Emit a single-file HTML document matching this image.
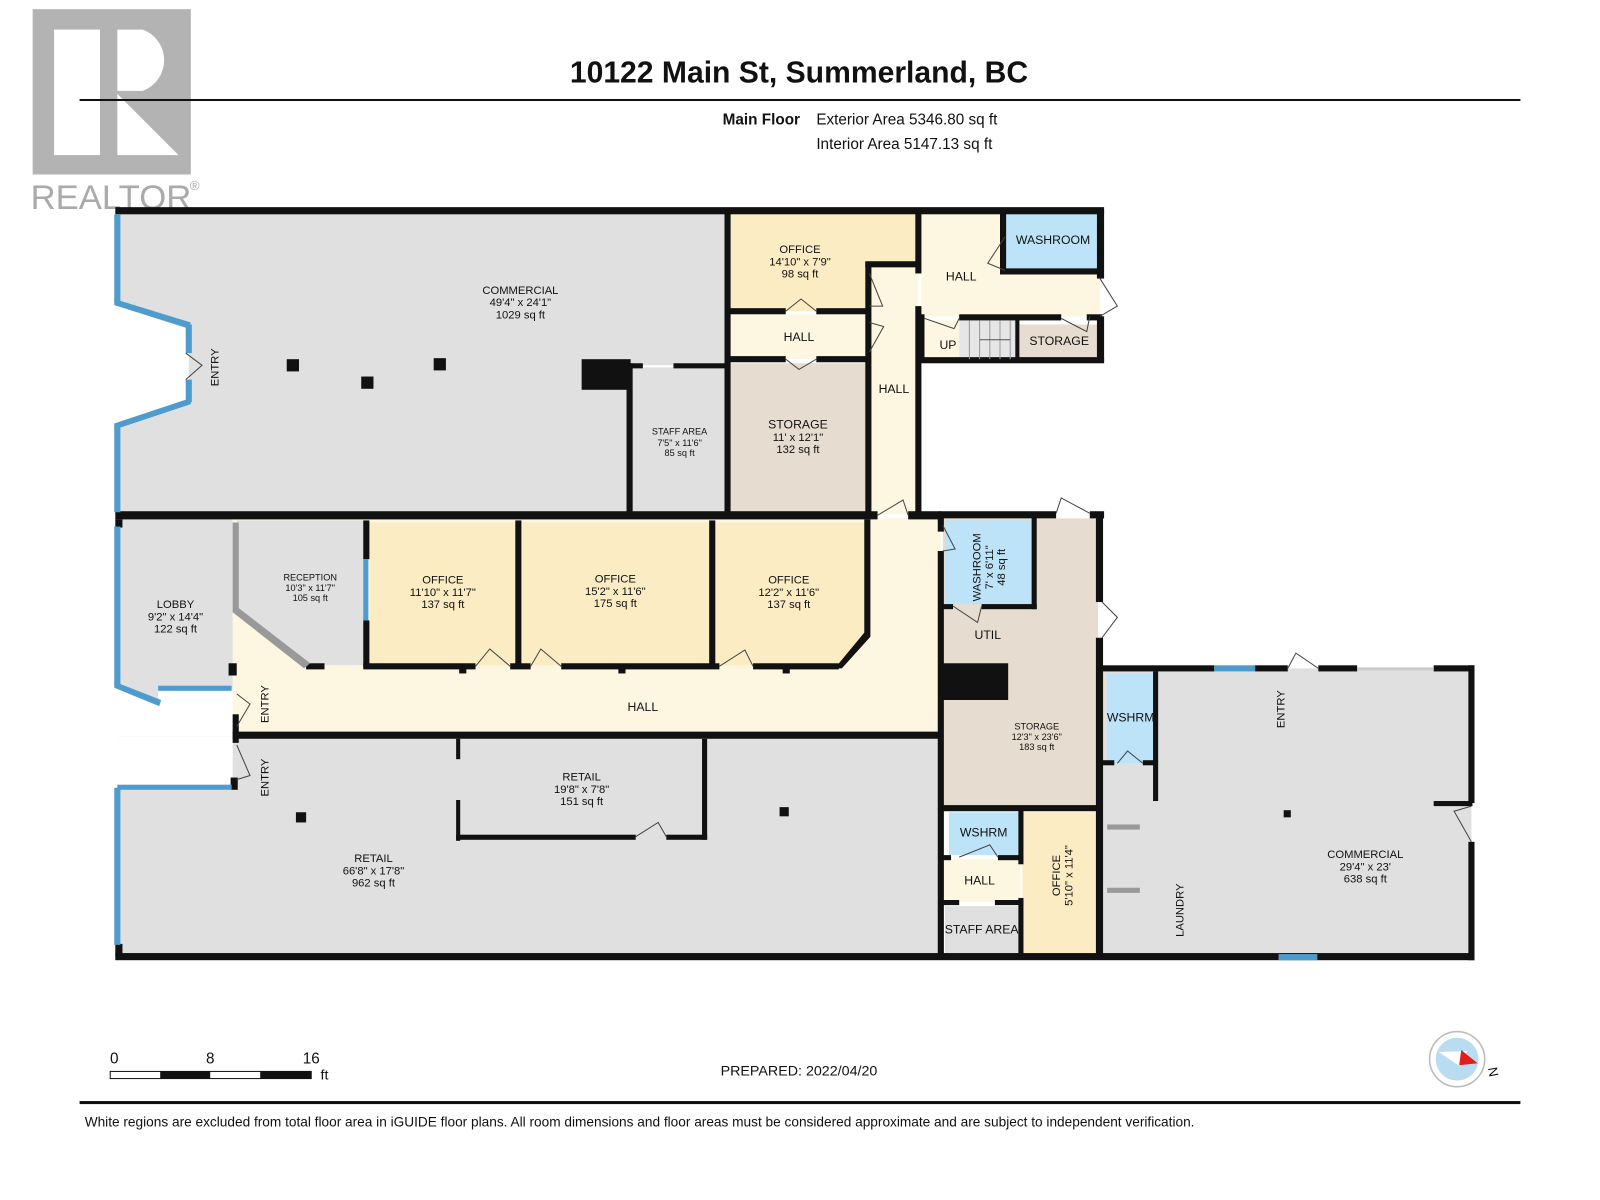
<!DOCTYPE html>
<html><head><meta charset="utf-8"><style>
html,body{margin:0;padding:0;background:#fff;}
svg{display:block;}
text{font-family:"Liberation Sans",Arial,sans-serif;fill:#111;}
</style></head><body>
<svg width="1600" height="1200" viewBox="0 0 1568 1176" preserveAspectRatio="none" xmlns="http://www.w3.org/2000/svg">
<rect x="32" y="9" width="155" height="162" fill="#b3b3b3"/>
<rect x="53" y="29" width="45" height="123" fill="#fff"/>
<path d="M115 29 H140 A32 32 0 0 1 140 89 H115 Z" fill="#fff"/>
<path d="M115 92 L175 152 H115 Z" fill="#fff"/>
<text x="30" y="205" font-size="34" style="fill:#aaa">REALTOR</text>
<text x="186" y="186" font-size="13" style="fill:#aaa">®</text>
<text x="783" y="81" font-size="29.5" font-weight="bold" text-anchor="middle">10122 Main St, Summerland, BC</text>
<rect x="78" y="97" width="1412" height="2" fill="#111"/>
<text x="784" y="122" font-size="15" font-weight="bold" text-anchor="end">Main Floor</text>
<text x="800" y="122" font-size="15">Exterior Area 5346.80 sq ft</text>
<text x="800" y="146" font-size="15">Interior Area 5147.13 sq ft</text>

<g>
<polygon points="115,208 712,208 712,358 615,358 615,502 115,502 115,417 185,393 185,318 115,295" fill="#e0e0e0"/>
<rect x="619" y="360" width="93" height="142" fill="#e0e0e0"/>
<polygon points="716,210 897,210 897,260 850,260 850,305 716,305" fill="#fcecc4"/>
<rect x="716" y="308" width="134" height="44" fill="#fdf7e2"/>
<rect x="716" y="356" width="134" height="147" fill="#e6dccf"/>
<rect x="852" y="262" width="48" height="242" fill="#fdf7e2"/>
<rect x="903" y="210" width="175" height="100" fill="#fdf7e2"/>
<rect x="985" y="208" width="93" height="58" fill="#bde3f8"/>
<rect x="904" y="314" width="36" height="38" fill="#fdf7e2"/>
<rect x="940" y="314" width="56" height="38" fill="#e6e6e6"/>
<rect x="999" y="318" width="77" height="34" fill="#e6dccf"/>
<rect x="228" y="508" width="694" height="212" fill="#fdf7e2"/>
<polygon points="115,508 228,508 228,675 155,675 155,688 115,670" fill="#e0e0e0"/>
<polygon points="232,510 358,510 358,652 300,652 232,598" fill="#e0e0e0"/>
<rect x="362" y="512" width="145" height="140" fill="#fcecc4"/>
<rect x="512" y="512" width="184" height="140" fill="#fcecc4"/>
<polygon points="700,512 850,512 850,622 822,652 700,652" fill="#fcecc4"/>
<rect x="115" y="722" width="807" height="216" fill="#e0e0e0"/>
<rect x="115" y="722" width="113" height="50" fill="#fff"/>
<polygon points="924,508 1076,508 1076,790 924,790" fill="#e6dccf"/>
<rect x="926" y="510" width="86" height="82" fill="#bde3f8"/>
<rect x="924" y="650" width="64" height="36" fill="#111"/>
<rect x="930" y="796" width="68" height="42" fill="#bde3f8"/>
<rect x="922" y="842" width="78" height="42" fill="#fdf7e2"/>
<rect x="926" y="888" width="72" height="48" fill="#e0e0e0"/>
<rect x="1002" y="796" width="72" height="138" fill="#fcecc4"/>
<rect x="1080" y="655" width="362" height="283" fill="#e0e0e0"/>
<rect x="1085" y="660" width="46" height="88" fill="#bde3f8"/>
</g>

<g fill="#111">
<rect x="113" y="203" width="969" height="7"/>
<rect x="570" y="352" width="48" height="30"/>
<rect x="614" y="356" width="6" height="148"/>
<rect x="618" y="356" width="12" height="5"/><rect x="660" y="356" width="55" height="5"/>
<rect x="710" y="205" width="6" height="300"/>
<rect x="712" y="302" width="58" height="6"/><rect x="800" y="302" width="52" height="6"/>
<rect x="712" y="349" width="58" height="6"/><rect x="800" y="349" width="52" height="6"/>
<rect x="848" y="257" width="6" height="248"/>
<rect x="848" y="256" width="52" height="6"/>
<rect x="897" y="205" width="6" height="63"/><rect x="897" y="300" width="6" height="205"/>
<rect x="980" y="205" width="6" height="63"/><rect x="980" y="263" width="100" height="6"/>
<rect x="1075" y="205" width="7" height="68"/><rect x="1075" y="310" width="7" height="45"/>
<rect x="900" y="308" width="6" height="46"/>
<rect x="940" y="308" width="100" height="6"/><rect x="1065" y="308" width="15" height="6"/>
<rect x="995" y="312" width="4" height="40"/>
<rect x="900" y="350" width="182" height="6"/>
<rect x="113" y="501" width="747" height="8"/><rect x="890" y="501" width="32" height="8"/>
<rect x="920" y="501" width="115" height="7"/><rect x="1068" y="501" width="14" height="7"/>
<rect x="113" y="509" width="7" height="8"/>
<rect x="224" y="650" width="8" height="12"/>
<rect x="228" y="700" width="6" height="28"/>
<rect x="356" y="510" width="6" height="38"/><rect x="356" y="608" width="6" height="46"/>
<rect x="505" y="510" width="6" height="145"/>
<rect x="695" y="510" width="6" height="145"/>
<polygon points="847,509 853,509 853,624 825,655 818,655 847,620"/>
<rect x="300" y="650" width="18" height="6"/><rect x="356" y="650" width="110" height="6"/>
<rect x="500" y="650" width="20" height="6"/><rect x="550" y="650" width="155" height="6"/><rect x="738" y="650" width="84" height="6"/>
<rect x="450" y="654" width="7" height="6"/><rect x="606" y="654" width="7" height="6"/><rect x="767" y="654" width="7" height="6"/>
<rect x="228" y="717" width="694" height="7"/>
<rect x="226" y="762" width="7" height="12"/>
<rect x="447" y="724" width="4" height="20"/><rect x="447" y="784" width="4" height="40"/>
<rect x="447" y="818" width="176" height="5"/><rect x="653" y="818" width="40" height="5"/>
<rect x="688" y="724" width="5" height="99"/>
<rect x="113" y="934" width="1332" height="7"/>
<rect x="113" y="925" width="7" height="12"/>
<rect x="919" y="505" width="6" height="16"/><rect x="919" y="540" width="6" height="398"/>
<rect x="1011" y="505" width="5" height="92"/>
<rect x="924" y="592" width="10" height="5"/><rect x="962" y="592" width="54" height="5"/>
<rect x="1074" y="505" width="7" height="85"/><rect x="1074" y="625" width="7" height="313"/>
<rect x="922" y="789" width="158" height="6"/>
<rect x="922" y="838" width="10" height="5"/><rect x="978" y="838" width="24" height="5"/>
<rect x="998" y="792" width="5" height="55"/><rect x="998" y="880" width="5" height="58"/>
<rect x="922" y="882" width="18" height="5"/><rect x="975" y="882" width="28" height="5"/>
<rect x="1078" y="652" width="112" height="6"/><rect x="1230" y="652" width="32" height="6"/><rect x="1292" y="652" width="38" height="6"/><rect x="1405" y="652" width="40" height="6"/>
<rect x="1439" y="652" width="6" height="135"/><rect x="1439" y="825" width="6" height="116"/>
<rect x="1405" y="785" width="38" height="5"/>
<rect x="1130" y="658" width="5" height="127"/>
<rect x="1080" y="745" width="12" height="5"/><rect x="1120" y="745" width="14" height="5"/>
<rect x="281" y="352" width="12" height="12"/><rect x="354" y="369" width="12" height="12"/><rect x="425" y="351" width="12" height="12"/>
<rect x="290" y="796" width="10" height="10"/><rect x="764" y="791" width="9" height="9"/><rect x="1258" y="794" width="7" height="7"/>
</g>
<g fill="#999">
<polygon points="228,512 234,512 234,596 304,650 298,655 228,600"/>
<rect x="1085" y="808" width="32" height="5"/><rect x="1085" y="870" width="32" height="5"/>
</g>
<g fill="#4e9ccd">
<rect x="112" y="210" width="6" height="86"/>
<polygon points="112,293 187,316 185,322 112,299"/>
<rect x="182" y="318" width="6" height="28"/><rect x="182" y="372" width="6" height="22"/>
<polygon points="112,415 187,390 187,396 112,421"/>
<rect x="112" y="418" width="6" height="84"/>
<rect x="112" y="516" width="6" height="155"/>
<polygon points="112,668 158,686 156,692 112,674"/>
<rect x="155" y="672" width="72" height="5"/>
<rect x="356" y="548" width="5" height="60"/>
<rect x="112" y="772" width="6" height="154"/>
<rect x="115" y="769" width="112" height="5"/>
<rect x="1190" y="652" width="40" height="6"/>
<rect x="1253" y="935" width="38" height="6"/>
</g>
<rect x="1330" y="654" width="75" height="3" fill="#ccc"/>
<g stroke="#999" stroke-width="1">
<line x1="950" y1="314" x2="950" y2="352"/><line x1="960" y1="314" x2="960" y2="352"/><line x1="970" y1="314" x2="970" y2="352"/><line x1="980" y1="314" x2="980" y2="352"/><line x1="990" y1="314" x2="990" y2="352"/>
<line x1="960" y1="333" x2="990" y2="333" stroke="#555"/>
</g>
<g fill="none" stroke="#444" stroke-width="1">
<path d="M770 305 L785 293 L800 305"/><path d="M770 352 L783 362 L800 352"/>
<path d="M852 268 L865 300 L852 300"/><path d="M852 316 L866 320 L852 345"/>
<path d="M985 232 L968 258 L985 265"/><path d="M1078 273 L1095 300 L1078 310"/>
<path d="M906 312 L935 322 L940 312"/><path d="M1040 312 L1065 325 L1068 310"/>
<path d="M860 505 L885 490 L890 505"/><path d="M1035 503 L1040 488 L1068 503"/>
<path d="M924 515 L936 538 L924 540"/><path d="M934 594 L958 610 L962 594"/>
<path d="M1080 590 L1095 605 L1080 625"/>
<path d="M466 653 L480 636 L500 653"/><path d="M520 653 L530 636 L550 653"/><path d="M705 653 L730 637 L738 653"/>
<path d="M232 680 L245 690 L232 712"/><path d="M232 730 L245 760 L232 764"/>
<path d="M623 820 L645 806 L653 820"/>
<path d="M940 840 L970 828 L978 840"/>
<path d="M1095 748 L1105 736 L1120 748"/><path d="M1262 655 L1270 640 L1292 655"/>
<path d="M1442 790 L1425 795 L1442 825"/>
<path d="M182 346 L198 358 L182 372"/>
</g>
<g font-size="11" text-anchor="middle">
<text x="510" y="288">COMMERCIAL</text><text x="510" y="300">49'4" x 24'1"</text><text x="510" y="312">1029 sq ft</text>
<text x="784" y="248">OFFICE</text><text x="784" y="260">14'10" x 7'9"</text><text x="784" y="272">98 sq ft</text>
<text x="783" y="334" font-size="12">HALL</text>
<text x="666" y="426" font-size="9">STAFF AREA</text><text x="666" y="437" font-size="9">7'5" x 11'6"</text><text x="666" y="447" font-size="9">85 sq ft</text>
<text x="782" y="420" font-size="12">STORAGE</text><text x="782" y="432">11' x 12'1"</text><text x="782" y="444">132 sq ft</text>
<text x="876" y="385" font-size="12">HALL</text>
<text x="942" y="275" font-size="12">HALL</text>
<text x="1032" y="239" font-size="12">WASHROOM</text>
<text x="929" y="342" font-size="12">UP</text>
<text x="1038" y="338" font-size="12">STORAGE</text>
<text x="172" y="596">LOBBY</text><text x="172" y="608">9'2" x 14'4"</text><text x="172" y="620">122 sq ft</text>
<text x="304" y="569" font-size="9">RECEPTION</text><text x="304" y="579" font-size="9">10'3" x 11'7"</text><text x="304" y="589" font-size="9">105 sq ft</text>
<text x="434" y="572">OFFICE</text><text x="434" y="584">11'10" x 11'7"</text><text x="434" y="596">137 sq ft</text>
<text x="603" y="571">OFFICE</text><text x="603" y="583">15'2" x 11'6"</text><text x="603" y="595">175 sq ft</text>
<text x="773" y="572">OFFICE</text><text x="773" y="584">12'2" x 11'6"</text><text x="773" y="596">137 sq ft</text>
<text x="630" y="697" font-size="12">HALL</text>
<text x="570" y="765">RETAIL</text><text x="570" y="777">19'8" x 7'8"</text><text x="570" y="789">151 sq ft</text>
<text x="366" y="845">RETAIL</text><text x="366" y="857">66'8" x 17'8"</text><text x="366" y="869">962 sq ft</text>
<text x="968" y="626" font-size="12">UTIL</text>
<text x="1016" y="715" font-size="9">STORAGE</text><text x="1016" y="725" font-size="9">12'3" x 23'6"</text><text x="1016" y="735" font-size="9">183 sq ft</text>
<text x="964" y="820" font-size="12">WSHRM</text>
<text x="960" y="867" font-size="12">HALL</text>
<text x="962" y="915" font-size="12">STAFF AREA</text>
<text x="1108" y="707" font-size="12">WSHRM</text>
<text x="1338" y="841">COMMERCIAL</text><text x="1338" y="853">29'4" x 23'</text><text x="1338" y="865">638 sq ft</text>
</g>
<g font-size="11" text-anchor="middle">
<text transform="translate(214,360) rotate(-90)">ENTRY</text>
<text transform="translate(263,690) rotate(-90)">ENTRY</text>
<text transform="translate(263,762) rotate(-90)">ENTRY</text>
<text transform="translate(1259,695) rotate(-90)">ENTRY</text>
<text transform="translate(1160,892) rotate(-90)">LAUNDRY</text>
<text transform="translate(961,556) rotate(-90)">WASHROOM</text>
<text transform="translate(973,556) rotate(-90)">7' x 6'11"</text>
<text transform="translate(985,556) rotate(-90)">48 sq ft</text>
<text transform="translate(1039,858) rotate(-90)">OFFICE</text>
<text transform="translate(1051,858) rotate(-90)">5'10" x 11'4"</text>
</g>
<rect x="108" y="1050" width="197" height="7" fill="#fff" stroke="#111" stroke-width="1"/>
<rect x="157" y="1050" width="49" height="7" fill="#111"/><rect x="255" y="1050" width="50" height="7" fill="#111"/>
<text x="112" y="1042" font-size="15" text-anchor="middle">0</text>
<text x="206" y="1042" font-size="15" text-anchor="middle">8</text>
<text x="305" y="1042" font-size="15" text-anchor="middle">16</text>
<text x="318" y="1058" font-size="14" text-anchor="middle">ft</text>
<text x="783" y="1054" font-size="14" text-anchor="middle">PREPARED: 2022/04/20</text>
<circle cx="1428" cy="1038" r="27" fill="#fff" stroke="#bbb" stroke-width="1.5"/>
<circle cx="1428" cy="1038" r="21" fill="#b9dcf3"/>
<polygon points="1410,1031 1438,1030 1431,1045" fill="#fff"/>
<polygon points="1432,1029 1448,1042 1430,1044" fill="#e41b1b"/>
<text x="1462" y="1050" font-size="13" transform="rotate(80 1462 1046)">N</text>
<rect x="78" y="1079" width="1412" height="3" fill="#111"/>
<text x="83" y="1104" font-size="13.4">White regions are excluded from total floor area in iGUIDE floor plans. All room dimensions and floor areas must be considered approximate and are subject to independent verification.</text>
</svg>
</body></html>
